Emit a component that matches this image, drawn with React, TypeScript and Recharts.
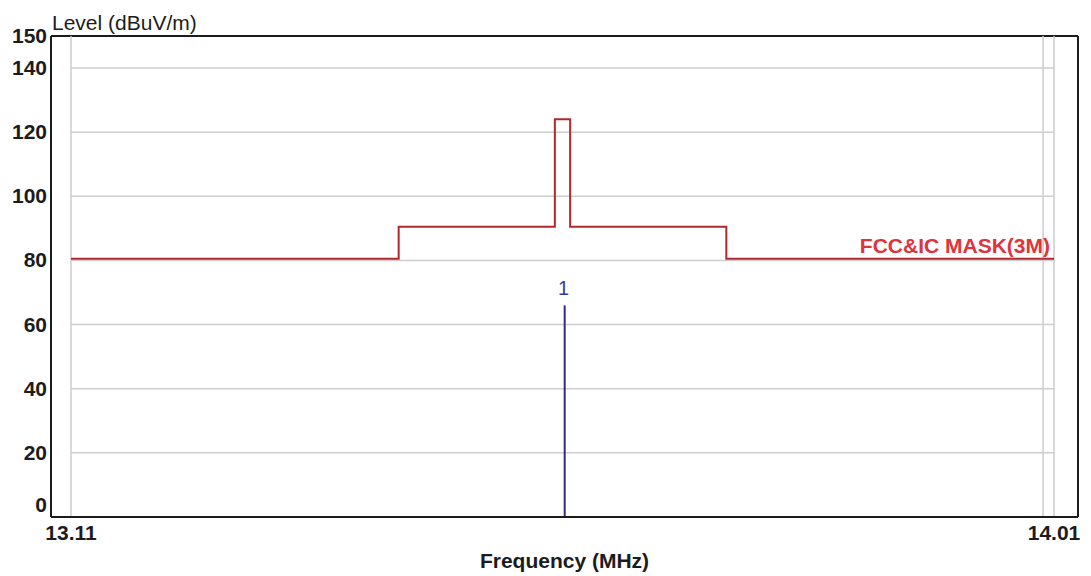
import { LineChart, Line, XAxis, YAxis, ReferenceLine, LabelList, CartesianGrid } from 'recharts';

// FCC 15.225 mask (3 m) as step breakpoints
const maskFreqs = [13.11, 13.41, 13.553, 13.567, 13.71, 14.01];
const maskLevels = [80.5, 90.5, 124, 90.5, 80.5, 80.5];

// measured carrier (marker 1)
const signalFreqs = [13.562, 13.562];
const signalLevels = [0, 66];

const yTicks = [0, 20, 40, 60, 80, 100, 120, 140, 150];
const yGrid = [0, 20, 40, 60, 80, 100, 120, 140];
const xTicks = [13.11, 14.01];
const xGrid = [13.11, 14.0, 14.01];

const maskName = 'FCC&IC MASK(3M)';
const markerName = '1';

const maskData = maskFreqs.map((f, i) => ({ f, v: maskLevels[i] }));
const signalData = signalFreqs.map((f, i) => ({ f, v: signalLevels[i] }));

const FONT = '"Liberation Sans", Arial, sans-serif';
const INK = '#1c1c1c';
const GRID = '#cdcdcd';
const MASK = '#b0282e';
const MASK_TEXT = '#e0343c';
const SIGNAL = '#2b2b8e';

const YTick = (props: any) => {
  const { x, y, payload } = props;
  const dy = payload.value === 0 ? -5 : 7;
  return (
    <text x={x} y={y} dy={dy} textAnchor="end" fontFamily={FONT} fontSize={21} fontWeight="bold" fill={INK}>
      {payload.value}
    </text>
  );
};

const MaskLabel = (props: any) => {
  const { x, y, index } = props;
  if (index !== maskFreqs.length - 1) return null;
  return (
    <text x={x - 4} y={y - 6} textAnchor="end" fontFamily={FONT} fontSize={21} fontWeight="bold" fill={MASK_TEXT}>
      {maskName}
    </text>
  );
};

const MarkerLabel = (props: any) => {
  const { x, y, index } = props;
  if (index !== signalFreqs.length - 1) return null;
  return (
    <text x={x - 1} y={y - 10} textAnchor="middle" fontFamily={FONT} fontSize={20} fill="#3b3b96">
      {markerName}
    </text>
  );
};

const LevelTitle = (props: any) => {
  const { viewBox } = props;
  return (
    <text x={viewBox.x + viewBox.width + 1} y={viewBox.y - 6} fontFamily={FONT} fontSize={21} fill={INK}>
      Level (dBuV/m)
    </text>
  );
};

export default function App() {
  return (
    <div style={{ position: 'absolute', left: 0, top: 0, width: 1091, height: 576, background: '#fff' }}>
      <LineChart width={1091} height={576} margin={{ top: 36, right: 13, bottom: 0, left: 0 }}>
        {/* top and right edges of the plot frame */}
        <CartesianGrid
          xAxisId="b"
          yAxisId="l"
          stroke={INK}
          strokeWidth={2}
          horizontalCoordinatesGenerator={({ offset }: any) => [offset.top]}
          verticalCoordinatesGenerator={({ offset }: any) => [offset.left + offset.width]}
        />
        <XAxis
          xAxisId="b"
          dataKey="f"
          type="number"
          domain={[13.11, 14.01]}
          allowDataOverflow
          ticks={xTicks}
          tickFormatter={(v: number) => v.toFixed(2)}
          padding={{ left: 20, right: 24 }}
          height={59}
          tickLine={false}
          tickSize={0}
          tickMargin={8}
          axisLine={{ stroke: INK, strokeWidth: 2 }}
          tick={{ fontFamily: FONT, fontSize: 21, fontWeight: 'bold', fill: INK }}
          label={{ value: 'Frequency (MHz)', position: 'insideBottom', offset: 8, fontFamily: FONT, fontSize: 21, fontWeight: 'bold', fill: INK }}
        />
        <YAxis
          yAxisId="l"
          type="number"
          domain={[0, 150]}
          ticks={yTicks}
          interval={0}
          width={51}
          tickLine={false}
          tickSize={0}
          tickMargin={4}
          axisLine={{ stroke: INK, strokeWidth: 2 }}
          tick={<YTick />}
          label={{ content: <LevelTitle /> }}
        />

        {yGrid.map((v) => (
          <ReferenceLine
            key={'h' + v}
            xAxisId="b"
            yAxisId="l"
            segment={[{ x: xGrid[0], y: v }, { x: xGrid[xGrid.length - 1], y: v }]}
            stroke={GRID}
            strokeWidth={1.5}
          />
        ))}
        {xGrid.map((f) => (
          <ReferenceLine key={'v' + f} xAxisId="b" yAxisId="l" x={f} stroke={GRID} strokeWidth={1.5} />
        ))}

        <Line
          xAxisId="b"
          yAxisId="l"
          data={maskData}
          dataKey="v"
          type="stepAfter"
          stroke={MASK}
          strokeWidth={2}
          dot={false}
          activeDot={false}
          isAnimationActive={false}
        >
          <LabelList dataKey="v" content={<MaskLabel />} />
        </Line>
        <Line
          xAxisId="b"
          yAxisId="l"
          data={signalData}
          dataKey="v"
          type="linear"
          stroke={SIGNAL}
          strokeWidth={2}
          dot={false}
          activeDot={false}
          isAnimationActive={false}
        >
          <LabelList dataKey="v" content={<MarkerLabel />} />
        </Line>
      </LineChart>
    </div>
  );
}
